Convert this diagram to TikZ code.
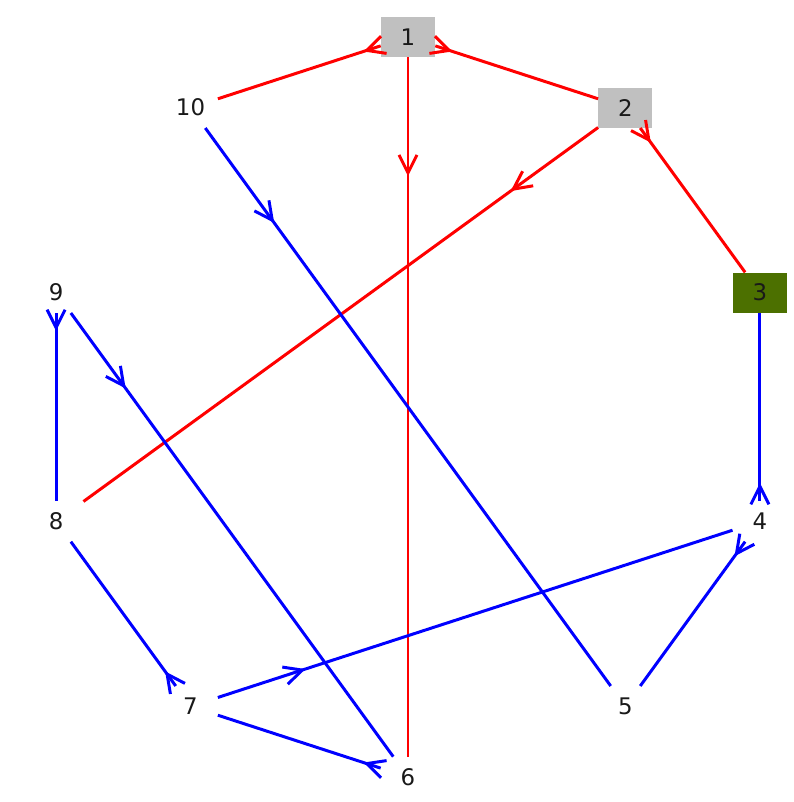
\documentclass[tikz,border=0pt]{standalone}
\usepackage{fontspec}
\setmainfont{DejaVu Sans}
\usepackage{xcolor}
\usetikzlibrary{arrows.meta,decorations.markings,positioning}
\definecolor{nodeGray}{RGB}{192,192,192}
\definecolor{nodeGreen}{RGB}{76,112,0}
\tikzset{
    barbTip/.tip={Straight Barb[length=0.36cm, width=0.36cm]},
    vertex/.style={
        minimum width=1.08cm,
        minimum height=0.8cm,
        inner sep=0pt,
        font=\fontsize{13}{15}\selectfont,
        text=black!90
    },
    grayVertex/.style={vertex, fill=nodeGray},
    greenVertex/.style={vertex, fill=nodeGreen},
    link/.style={line width=1.7pt},
    redLink/.style={link, red},
    blueLink/.style={link, blue},
    nearMark/.style={postaction={decorate, decoration={markings, mark=at position 0.36cm with {\arrow{barbTip}}}}},
    midMark/.style={postaction={decorate, decoration={markings, mark=at position 0.17 with {\arrow{barbTip}}}}},
}

\begin{document}
\begin{tikzpicture}
    \useasboundingbox (-8.16,-7.90) rectangle (7.72,8.14);

    % Vertices on the ring
    \node[grayVertex] (n1) at (90:7.4) {1};
    \node[grayVertex] (n2) at (54:7.4) {2};
    \node[greenVertex] (n3) at (18:7.4) {3};
    \node[vertex] (n4) at (-18:7.4) {4};
    \node[vertex] (n5) at (-54:7.4) {5};
    \node[vertex] (n6) at (-90:7.4) {6};
    \node[vertex] (n7) at (-126:7.4) {7};
    \node[vertex] (n8) at (-162:7.4) {8};
    \node[vertex] (n9) at (162:7.4) {9};
    \node[vertex] (n10) at (126:7.4) {10};

    % Red links
    \draw[redLink, nearMark] (n1) -- (n10);
    \draw[redLink, nearMark] (n1) -- (n2);
    \draw[redLink, midMark] (n1) -- (n6);
    \draw[redLink, midMark] (n2) -- (n8);
    \draw[redLink, nearMark] (n2) -- (n3);

    % Blue links
    \draw[blueLink, nearMark] (n4) -- (n3);
    \draw[blueLink, nearMark] (n4) -- (n5);
    \draw[blueLink, midMark] (n10) -- (n5);
    \draw[blueLink, nearMark] (n9) -- (n8);
    \draw[blueLink, midMark] (n9) -- (n6);
    \draw[blueLink, nearMark] (n7) -- (n8);
    \draw[blueLink, midMark] (n7) -- (n4);
    \draw[blueLink, nearMark] (n6) -- (n7);

\end{tikzpicture}
\end{document}
